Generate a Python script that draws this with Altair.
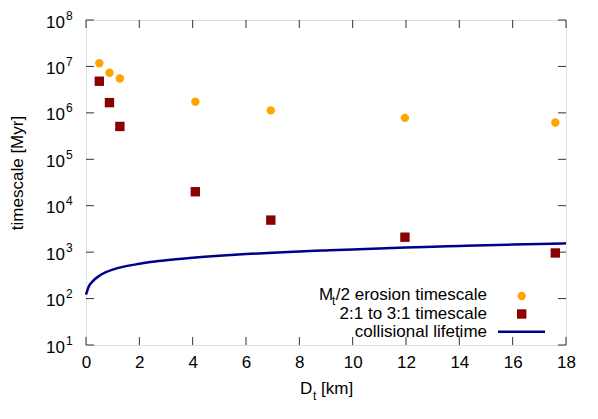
import altair as alt
import pandas as pd

FONT = "Liberation Sans"

# ---- data ----
erosion_D = [0.5, 0.88, 1.27, 4.1, 6.93, 11.96, 17.6]
erosion_t = [1.17e7, 7.3e6, 5.5e6, 1.74e6, 1.13e6, 7.8e5, 6.2e5]

resonance_D = [0.5, 0.88, 1.27, 4.1, 6.93, 11.96, 17.6]
resonance_t = [4.8e6, 1.66e6, 5.1e5, 2.0e4, 4.9e3, 2.1e3, 9.6e2]

life_D = [0, 0.1, 0.25, 0.5, 0.75, 1, 1.5, 2, 2.5, 3, 3.5, 4, 5, 6, 7, 8, 9,
          10, 11, 12, 13, 14, 15, 16, 17, 18]
life_t = [122, 180, 235, 310, 370, 420, 500, 560, 620, 670, 715, 760, 840,
          910, 975, 1035, 1090, 1145, 1195, 1260, 1310, 1360, 1410, 1455,
          1500, 1550]

x_ticks = [0, 2, 4, 6, 8, 10, 12, 14, 16, 18]
y_exps = [1, 2, 3, 4, 5, 6, 7, 8]

legend_labels = ["2:1 to 3:1 timescale", "collisional lifetime"]

W, H = 480, 325

xs = alt.Scale(domain=[0, 18], nice=False, zero=False)
ys = alt.Scale(type="log", domain=[10, 1e8], nice=False)

x_axis = alt.Axis(values=x_ticks, ticks=False, domain=False, grid=False,
                  labelFontSize=17, labelFont=FONT, labelColor="black",
                  labelPadding=9, labelFlush=False, labelOverlap=False,
                  format="d", title=None)


def X():
    return alt.X("D:Q", scale=xs, axis=x_axis)


def Y():
    return alt.Y("t:Q", scale=ys, axis=None)


er_df = pd.DataFrame({"D": erosion_D, "t": erosion_t})
rs_df = pd.DataFrame({"D": resonance_D, "t": resonance_t})
lf_df = pd.DataFrame({"D": life_D, "t": life_t})
xt_df = pd.DataFrame({"D": x_ticks})
yt_df = pd.DataFrame({"t": [10.0 ** e for e in y_exps],
                      "e": [str(e) for e in y_exps]})

erosion = alt.Chart(er_df).mark_circle(size=70, color="#ffa500", opacity=1).encode(x=X(), y=Y())
resonance = alt.Chart(rs_df).mark_square(size=88, color="#8b0000", opacity=1).encode(x=X(), y=Y())
life = alt.Chart(lf_df).mark_line(color="#00008b", strokeWidth=2.5, interpolate="monotone").encode(x=X(), y=Y())

tick_col = "#333333"
xt_bottom = alt.Chart(xt_df).mark_rule(color=tick_col, strokeWidth=1).encode(
    x=X(), y=alt.value(H), y2=alt.value(H - 8))
xt_top = alt.Chart(xt_df).mark_rule(color=tick_col, strokeWidth=1).encode(
    x=X(), y=alt.value(0), y2=alt.value(8))
yt_left = alt.Chart(yt_df).mark_rule(color=tick_col, strokeWidth=1).encode(
    y=Y(), x=alt.value(0), x2=alt.value(8))
yt_right = alt.Chart(yt_df).mark_rule(color=tick_col, strokeWidth=1).encode(
    y=Y(), x=alt.value(W - 8), x2=alt.value(W))

y_lab_base = alt.Chart(yt_df).mark_text(
    text="10", align="right", baseline="middle", fontSize=17, font=FONT,
    color="black", dy=2.5).encode(y=Y(), x=alt.value(-21))
y_lab_exp = alt.Chart(yt_df).mark_text(
    align="left", baseline="middle", fontSize=12, font=FONT,
    color="black", dy=-4.5).encode(y=Y(), x=alt.value(-20), text="e:N")


def txt(s, px, py, fs=17, align="left", angle=0):
    kw = dict(align=align, baseline="middle", fontSize=fs, font=FONT, color="black")
    if angle:
        kw["angle"] = angle
    return alt.Chart(pd.DataFrame({"s": [s]})).mark_text(**kw).encode(
        text="s:N", x=alt.value(px), y=alt.value(py))


# axis titles
y_title = txt("timescale [Myr]", -68, 153, angle=270, align="center")
x_title_D = txt("D", 214, 369)
x_title_t = txt("t", 227, 375.5, fs=12)
x_title_km = txt("[km]", 235, 369)

# legend
leg_M = txt("M", 233, 275)
leg_t = txt("t", 246, 280.5, fs=12)
leg_rest = txt("/2 erosion timescale", 401, 275, align="right")
leg_2 = txt(legend_labels[0], 401, 293.5, align="right")
leg_3 = txt(legend_labels[1], 401, 312, align="right")
leg_circle = alt.Chart(pd.DataFrame({"s": ["c"]})).mark_circle(
    size=70, color="#ffa500", opacity=1).encode(x=alt.value(435.7), y=alt.value(276))
leg_square = alt.Chart(pd.DataFrame({"s": ["q"]})).mark_square(
    size=88, color="#8b0000", opacity=1).encode(x=alt.value(435.7), y=alt.value(294))
leg_line = alt.Chart(pd.DataFrame({"s": ["l"]})).mark_rule(
    color="#00008b", strokeWidth=2.5).encode(
    x=alt.value(412), x2=alt.value(459), y=alt.value(311.7))

chart = alt.layer(
    xt_bottom, xt_top, yt_left, yt_right,
    erosion, resonance, life,
    y_lab_base, y_lab_exp, y_title, x_title_D, x_title_t, x_title_km,
    leg_M, leg_t, leg_rest, leg_2, leg_3, leg_circle, leg_square, leg_line,
).properties(
    width=W, height=H,
    padding={"left": 78, "top": 12, "right": 24, "bottom": 70},
    autosize=alt.AutoSizeParams(type="none"),
).configure_view(
    stroke="black", strokeWidth=1
).configure(background="white")

chart.save("out.html", embed_options={"renderer": "svg", "actions": False})
